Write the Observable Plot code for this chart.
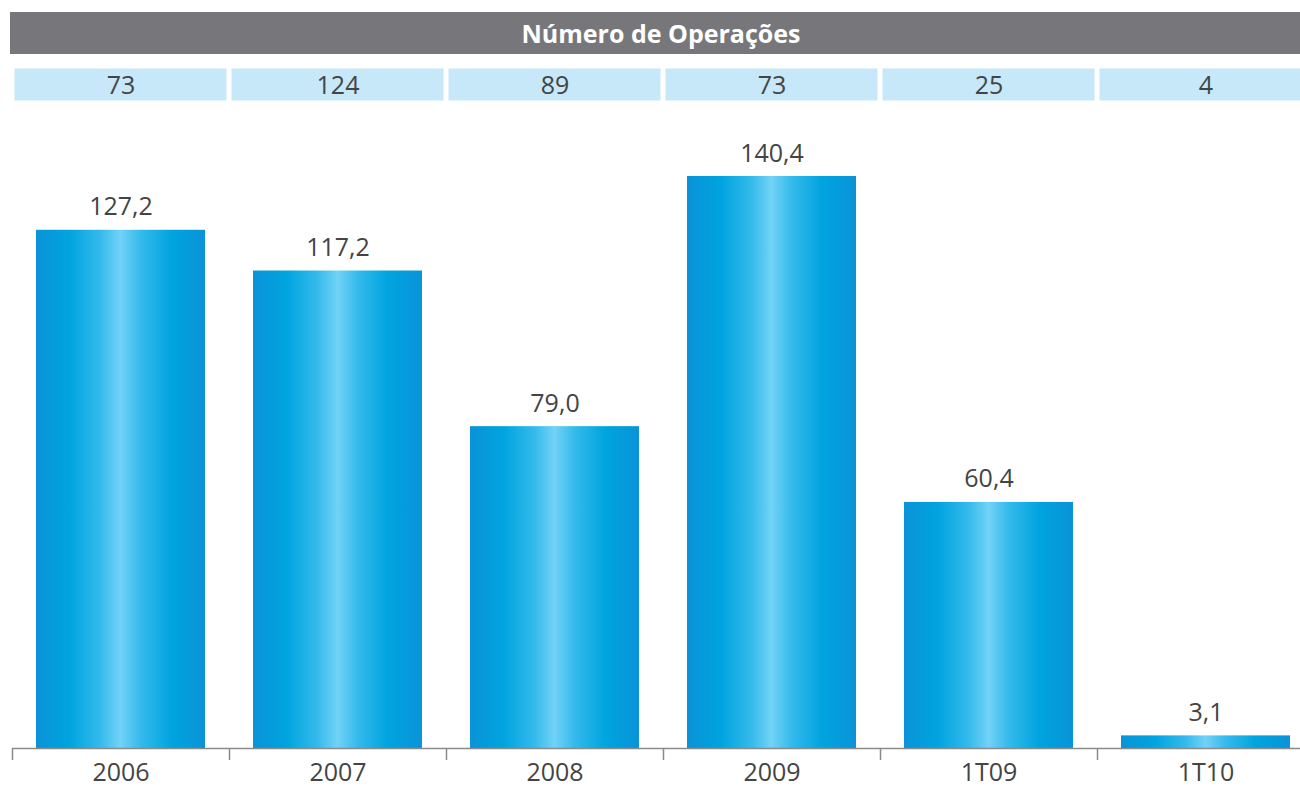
<!DOCTYPE html>
<html><head><meta charset="utf-8">
<script src="https://cdn.jsdelivr.net/npm/d3@7"></script>
<script src="https://cdn.jsdelivr.net/npm/@observablehq/plot@0.6"></script>
<style>
body{margin:0;background:#fff;font-family:"Open Sans",sans-serif;}
#wrap{position:relative;width:1300px;height:787px;overflow:hidden;}
#title{position:absolute;left:10px;top:12px;width:1302px;height:42px;background:#77777b;color:#fff;font-weight:700;font-size:25px;line-height:42px;text-align:center;}
#ops{position:absolute;left:0;top:66px;}
#main{position:absolute;left:0;top:0;}
</style></head><body>
<div id="wrap"><div id="main"></div><div id="title"></div><div id="ops"></div></div>
<script>
const titleText = "Número de Operações";
const categories = ["2006","2007","2008","2009","1T09","1T10"];
const volumes = [127.2, 117.2, 79.0, 140.4, 60.4, 3.1];
const operations = [73, 124, 89, 73, 25, 4];

const rows = categories.map((c, i) => ({cat: c, vol: volumes[i], ops: operations[i]}));
const fmt = v => v.toFixed(1).replace(".", ",");
const xRange = [12, 1314];
const step = (xRange[1] - xRange[0]) / categories.length;
const font = {fontFamily: "'Open Sans', sans-serif", background: "transparent"};

document.getElementById("title").textContent = titleText;

const defs = () => {
  const d = d3.create("svg:defs");
  const g = d.append("linearGradient").attr("id", "barGrad").attr("x1", 0).attr("x2", 1).attr("y1", 0).attr("y2", 0);
  [[0, "#0a93d8"], [0.2, "#00a4df"], [0.38, "#34baeb"], [0.5, "#72d2f7"], [0.62, "#34baeb"], [0.8, "#00a4df"], [1, "#0a93d8"]]
    .forEach(([o, c]) => g.append("stop").attr("offset", o).attr("stop-color", c));
  return d.node();
};

const opsPlot = Plot.plot({
  width: 1300, height: 37,
  marginTop: 0, marginBottom: 0, marginLeft: 12, marginRight: 0,
  style: font,
  x: {domain: categories, range: xRange, padding: 0, axis: null},
  marks: [
    Plot.cell(rows, {x: "cat", fill: "#c6e8f8", inset: 2.5}),
    Plot.text(rows, {x: "cat", text: d => String(d.ops), fontSize: 25, fill: "#444", frameAnchor: "middle", dy: 1})
  ]
});
document.getElementById("ops").appendChild(opsPlot);

const mainPlot = Plot.plot({
  width: 1300, height: 787,
  marginTop: 0, marginBottom: 39, marginLeft: 12, marginRight: 0,
  style: font,
  x: {domain: categories, range: xRange, paddingInner: 0.22, paddingOuter: 0.11, label: null},
  y: {domain: [0, 140.4], range: [748, 176], axis: null},
  marks: [
    defs,
    Plot.barY(rows, {x: "cat", y: "vol", fill: "url(#barGrad)"}),
    Plot.text(rows, {x: "cat", y: "vol", text: d => fmt(d.vol), dy: -23, fontSize: 25, fill: "#444"}),
    Plot.ruleY([0], {stroke: "#8a8a8a", strokeWidth: 1.5}),
    Plot.axisX({tickSize: 12, fill: "none", stroke: "#8a8a8a", strokeWidth: 1.5, dx: -step / 2}),
    Plot.axisX({tickSize: 0, tickPadding: 15, fontSize: 25, fill: "#444", label: null})
  ]
});
document.getElementById("main").appendChild(mainPlot);
</script>
</body></html>
